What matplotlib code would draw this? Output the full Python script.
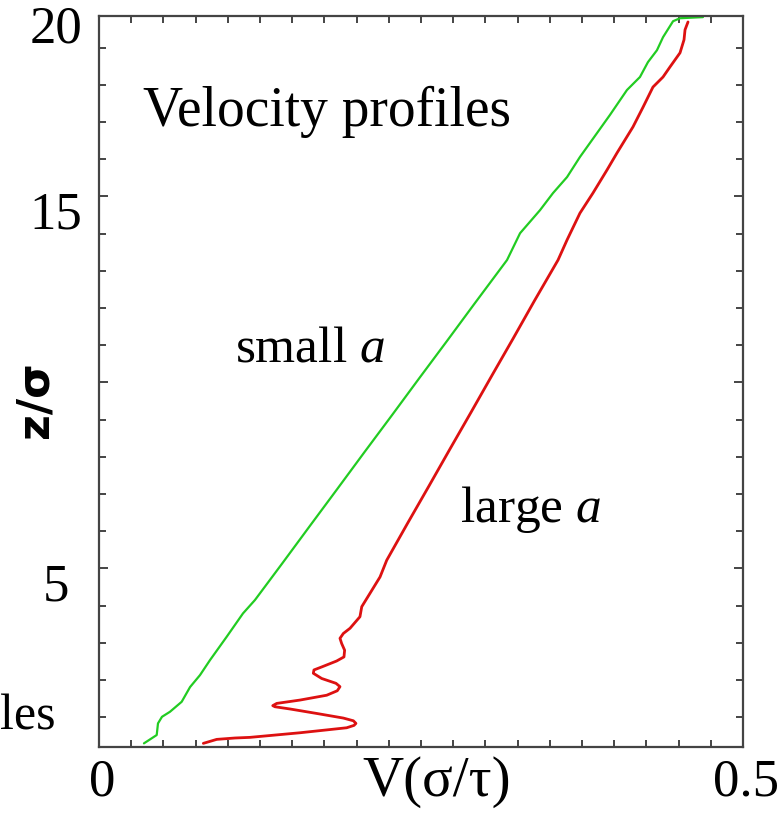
import matplotlib
matplotlib.use("Agg")
import matplotlib.pyplot as plt
from matplotlib.ticker import MultipleLocator, FixedLocator, NullFormatter

# Velocity profiles: height z/sigma versus velocity V (sigma/tau)
small_v = [0.0349, 0.0448, 0.0458, 0.0489, 0.0551, 0.0642, 0.0707, 0.0784,
           0.0862, 0.0991, 0.1118, 0.1211, 0.1424, 0.1637, 0.1849, 0.2062,
           0.2275, 0.2488, 0.2701, 0.2914, 0.3168, 0.3269, 0.3424, 0.3525,
           0.3634, 0.3734, 0.3866, 0.3967, 0.4099, 0.4200, 0.4262, 0.4332,
           0.4379, 0.4457, 0.4511, 0.4689]
small_z = [0.296, 0.52, 0.833, 1.01, 1.145, 1.414, 1.81, 2.13,
           2.535, 3.16, 3.79, 4.15, 5.14, 6.14, 7.13, 8.13,
           9.12, 10.12, 11.11, 12.11, 13.29, 14.01, 14.63, 15.09,
           15.52, 16.06, 16.70, 17.19, 17.86, 18.21, 18.61, 18.93,
           19.28, 19.71, 19.79, 19.82]

large_v = [0.0810, 0.0914, 0.1056, 0.1172, 0.1561, 0.1923, 0.1980, 0.1995,
           0.1975, 0.1897, 0.1690, 0.1483, 0.1366, 0.1349, 0.1380, 0.1561,
           0.1768, 0.1850, 0.1871, 0.1840, 0.1729, 0.1664, 0.1669, 0.1729,
           0.1845, 0.1902, 0.1907, 0.1884, 0.1871, 0.1897, 0.1949, 0.2026,
           0.2040, 0.2104, 0.2182, 0.2234, 0.2397, 0.2561, 0.2725, 0.2889,
           0.3053, 0.3217, 0.3380, 0.3564, 0.3634, 0.3734, 0.3835, 0.3944,
           0.4022, 0.4146, 0.4224, 0.4301, 0.4379, 0.4433, 0.4511, 0.4542,
           0.4550, 0.4573]
large_z = [0.296, 0.403, 0.44, 0.457, 0.581, 0.715, 0.779, 0.833,
           0.903, 0.976, 1.10, 1.22, 1.28, 1.31, 1.37, 1.46,
           1.59, 1.71, 1.82, 1.91, 2.04, 2.18, 2.27, 2.35,
           2.51, 2.62, 2.80, 2.98, 3.12, 3.25, 3.39, 3.70,
           3.97, 4.33, 4.77, 5.22, 6.22, 7.21, 8.21, 9.20,
           10.20, 11.19, 12.19, 13.29, 13.83, 14.55, 15.09, 15.71,
           16.17, 16.87, 17.40, 17.94, 18.21, 18.48, 18.86, 19.21,
           19.48, 19.69]

y_tick_labels = {20: "20", 15: "15", 5: "5"}
x_tick_labels = {0.0: "0", 0.5: "0.5"}

W, H = 780, 816
SERIF = "Liberation Serif"
plt.rcParams["mathtext.fontset"] = "custom"
plt.rcParams["mathtext.rm"] = SERIF
plt.rcParams["mathtext.it"] = SERIF + ":italic"

fig = plt.figure(figsize=(W / 100, H / 100), dpi=100)
ax = fig.add_axes([99 / W, 1 - 747.3 / H, (743 - 99) / W, (747.3 - 16) / H])

ax.plot(small_v, small_z, color="#22cc22", lw=1.6,
        solid_joinstyle="round", solid_capstyle="round")
ax.plot(large_v, large_z, color="#dd1111", lw=2.0,
        solid_joinstyle="round", solid_capstyle="round")

ax.set_xlim(0, 0.5)
ax.set_ylim(0.19, 19.85)

ax.xaxis.set_major_locator(MultipleLocator(0.025))
ax.xaxis.set_major_formatter(NullFormatter())
ax.yaxis.set_major_locator(FixedLocator([5, 10, 15]))
ax.yaxis.set_minor_locator(MultipleLocator(1))
ax.yaxis.set_major_formatter(NullFormatter())

spine_col = "#444444"
for s in ax.spines.values():
    s.set_color(spine_col)
    s.set_linewidth(1.6)
ax.tick_params(which="both", direction="in", top=True, right=True,
               color=spine_col, width=1.4)
ax.tick_params(axis="x", which="major", length=5)
ax.tick_params(axis="y", which="major", length=6.5)
ax.tick_params(axis="y", which="minor", length=5)

# Tick labels drawn a little below their tick marks
for val, lab in y_tick_labels.items():
    ax.annotate(lab, xy=(0, val), xycoords=("axes fraction", "data"),
                xytext=(-31, -14), textcoords="offset points",
                ha="center", va="center", fontsize=38, family=SERIF,
                annotation_clip=False)
for val, lab in x_tick_labels.items():
    ax.annotate(lab, xy=(val, 0), xycoords=("data", "axes fraction"),
                xytext=(2, -25.5), textcoords="offset points",
                ha="center", va="center", fontsize=38, family=SERIF,
                annotation_clip=False)

def px(x, y):
    return x / W, 1 - y / H

fig.text(*px(437, 782), "V(σ/τ)", ha="center", va="center",
         fontsize=41, family=SERIF)
fig.text(*px(35, 400), "z/σ", ha="center", va="center", rotation=90,
         fontsize=32, family="DejaVu Sans", fontweight="bold")
fig.text(*px(143, 126), "Velocity profiles", ha="left", va="baseline",
         fontsize=40, family=SERIF)
fig.text(*px(235, 362), r"small $a$", ha="left", va="baseline",
         fontsize=37, family=SERIF)
fig.text(*px(460, 522), r"large $a$", ha="left", va="baseline",
         fontsize=37, family=SERIF)
fig.text(*px(0, 729), "les", ha="left", va="baseline",
         fontsize=36, family=SERIF)

fig.savefig("out.png", dpi=100)
